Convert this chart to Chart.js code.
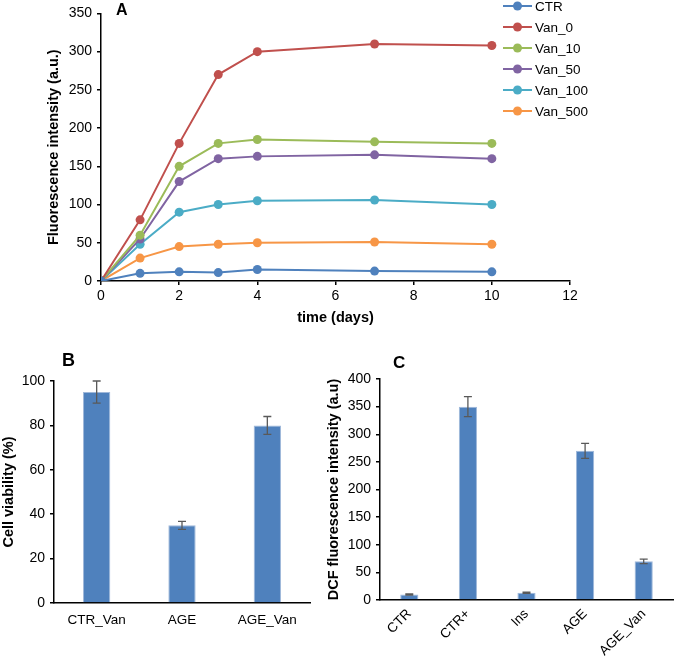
<!DOCTYPE html>
<html>
<head>
<meta charset="utf-8">
<script src="https://cdn.jsdelivr.net/npm/chart.js@4/dist/chart.umd.min.js"></script>
<style>
  body { margin: 0; background: #fff; }
  #wrap { position: relative; width: 675px; height: 662px; overflow: hidden; }
  .box { position: absolute; }
  .lbl { position: absolute; font: bold 17px "Liberation Sans", Arial, sans-serif; color: #000; }
</style>
</head>
<body>
<div id="wrap">
  <div class="box" style="left:0;top:0;width:675px;height:335px"><canvas id="chartA"></canvas></div>
  <div class="box" style="left:0;top:340px;width:330px;height:322px"><canvas id="chartB"></canvas></div>
  <div class="box" style="left:322px;top:340px;width:353px;height:322px"><canvas id="chartC"></canvas></div>
  <div class="lbl" style="left:116px;top:1px;font-size:16px">A</div>
  <div class="lbl" style="left:62px;top:350px;font-size:18px">B</div>
  <div class="lbl" style="left:393px;top:353px">C</div>
</div>
<script>
// panel A - fluorescence over time
var days = [0, 1, 2, 3, 4, 7, 10];
var seriesNames = ['CTR', 'Van_0', 'Van_10', 'Van_50', 'Van_100', 'Van_500'];
var ctr    = [0, 10, 12, 11, 15, 13, 12];
var van0   = [0, 80, 180, 270, 300, 310, 308];
var van10  = [0, 60, 150, 180, 185, 182, 180];
var van50  = [0, 55, 130, 160, 163, 165, 160];
var van100 = [0, 48, 90, 100, 105, 106, 100];
var van500 = [0, 30, 45, 48, 50, 51, 48];
var colors = ['#4F81BD', '#C0504D', '#9BBB59', '#8064A2', '#4BACC6', '#F79646'];

// panel B - cell viability
var bLabels = ['CTR_Van', 'AGE', 'AGE_Van'];
var bValues = [95, 35, 80];
var bErrors = [5, 1.8, 4];

// panel C - DCF fluorescence
var cLabels = ['CTR', 'CTR+', 'Ins', 'AGE', 'AGE_Van'];
var cValues = [10, 350, 13, 270, 70];
var cErrors = [1, 18, 1, 13.5, 4];

var FONT = '"Liberation Sans", Arial, sans-serif';
Chart.defaults.font.family = FONT;
Chart.defaults.color = '#000';
Chart.defaults.animation = false;

function toPoints(arr) {
  var out = [];
  for (var i = 0; i < arr.length; i++) out.push({x: days[i], y: arr[i]});
  return out;
}

var allSeries = [ctr, van0, van10, van50, van100, van500];
var lineSets = [];
for (var i = 0; i < allSeries.length; i++) {
  lineSets.push({
    label: seriesNames[i],
    data: toPoints(allSeries[i]),
    borderColor: colors[i],
    backgroundColor: colors[i],
    borderWidth: 2,
    pointRadius: 4.5,
    pointBorderWidth: 0,
    showLine: true,
    tension: 0
  });
}
// draw CTR on top like the original
lineSets[0].order = -1;

// legend drawn in the top right, outside the plot
var sideLegend = {
  id: 'sideLegend',
  afterDraw: function(chart) {
    var c = chart.ctx;
    c.save();
    c.font = '13.5px ' + FONT;
    c.textBaseline = 'middle';
    chart.data.datasets.forEach(function(ds, i) {
      var y = 6 + 21 * i;
      c.strokeStyle = ds.borderColor;
      c.lineWidth = 2;
      c.beginPath(); c.moveTo(503, y); c.lineTo(532, y); c.stroke();
      c.fillStyle = ds.borderColor;
      c.beginPath(); c.arc(517.5, y, 4.5, 0, Math.PI * 2); c.fill();
      c.fillStyle = '#000';
      c.fillText(ds.label, 535, y + 1);
    });
    c.restore();
  }
};

// error bars for the bar charts
var errorBars = {
  id: 'errorBars',
  afterDatasetsDraw: function(chart) {
    var c = chart.ctx;
    var ys = chart.scales.y;
    c.save();
    c.strokeStyle = '#595959';
    c.lineWidth = 1.3;
    chart.data.datasets.forEach(function(ds, di) {
      if (!ds.errors) return;
      var meta = chart.getDatasetMeta(di);
      meta.data.forEach(function(bar, j) {
        var v = ds.data[j], e = ds.errors[j];
        var top = ys.getPixelForValue(v + e), bot = ys.getPixelForValue(v - e);
        c.beginPath();
        c.moveTo(bar.x, top); c.lineTo(bar.x, bot);
        c.moveTo(bar.x - 4, top); c.lineTo(bar.x + 4, top);
        c.moveTo(bar.x - 4, bot); c.lineTo(bar.x + 4, bot);
        c.stroke();
      });
    });
    c.restore();
  }
};

function yAxis(min, max, step, width, title, titlePad) {
  return {
    min: min, max: max,
    afterFit: function(s) { s.width = width; },
    border: {display: true, color: '#000', width: 1.5},
    grid: {display: true, drawOnChartArea: false, color: '#000', tickLength: 4, lineWidth: 1.5},
    ticks: {stepSize: step, padding: 5, font: {size: 14}, color: '#000'},
    title: {display: true, text: title, font: {size: 14.5, weight: 'bold'}, padding: {top: titlePad, bottom: 0}, color: '#000'}
  };
}

new Chart(document.getElementById('chartA'), {
  type: 'scatter',
  data: {datasets: lineSets},
  options: {
    responsive: true,
    maintainAspectRatio: false,
    layout: {padding: {top: 8, right: 105, left: 0, bottom: 0}},
    plugins: {legend: {display: false}, tooltip: {enabled: false}},
    scales: {
      x: {
        type: 'linear', min: 0, max: 12,
        afterFit: function(s) { s.height = 54; },
        border: {display: true, color: '#000', width: 1.5},
        grid: {display: true, drawOnChartArea: false, color: '#000', tickLength: 4, lineWidth: 1.5},
        ticks: {stepSize: 2, padding: 3, font: {size: 14}, color: '#000'},
        title: {display: true, text: 'time (days)', font: {size: 14.5, weight: 'bold'}, padding: {top: 4, bottom: 8}, color: '#000'}
      },
      y: yAxis(0, 350, 50, 101, 'Fluorescence intensity (a.u.)', 45)
    }
  },
  plugins: [sideLegend]
});

new Chart(document.getElementById('chartB'), {
  type: 'bar',
  data: {
    labels: bLabels,
    datasets: [{
      label: 'Cell viability',
      data: bValues,
      errors: bErrors,
      backgroundColor: '#4F81BD',
      borderColor: '#9FB8DA',
      borderWidth: 1,
      categoryPercentage: 1,
      barPercentage: 0.32
    }]
  },
  options: {
    responsive: true,
    maintainAspectRatio: false,
    layout: {padding: {top: 41, right: 20, left: 0, bottom: 0}},
    plugins: {legend: {display: false}, tooltip: {enabled: false}},
    scales: {
      x: {
        afterFit: function(s) { s.height = 59; },
        border: {display: true, color: '#000', width: 1.5},
        grid: {display: true, drawOnChartArea: false, drawTicks: false},
        ticks: {padding: 9, font: {size: 13.5}, color: '#000', maxRotation: 0}
      },
      y: yAxis(0, 100, 20, 54, 'Cell viability (%)', 0)
    }
  },
  plugins: [errorBars]
});

new Chart(document.getElementById('chartC'), {
  type: 'bar',
  data: {
    labels: cLabels,
    datasets: [{
      label: 'DCF',
      data: cValues,
      errors: cErrors,
      backgroundColor: '#4F81BD',
      borderColor: '#9FB8DA',
      borderWidth: 1,
      categoryPercentage: 1,
      barPercentage: 0.31
    }]
  },
  options: {
    responsive: true,
    maintainAspectRatio: false,
    layout: {padding: {top: 39, right: 2, left: 0, bottom: 0}},
    plugins: {legend: {display: false}, tooltip: {enabled: false}},
    scales: {
      x: {
        afterFit: function(s) { s.height = 62; },
        border: {display: true, color: '#000', width: 1.5},
        grid: {display: true, drawOnChartArea: false, drawTicks: false},
        ticks: {padding: 6, font: {size: 13.5}, color: '#000', minRotation: 45, maxRotation: 45}
      },
      y: yAxis(0, 400, 50, 58, 'DCF fluorescence intensity (a.u)', 3)
    }
  },
  plugins: [errorBars]
});
</script>
</body>
</html>
